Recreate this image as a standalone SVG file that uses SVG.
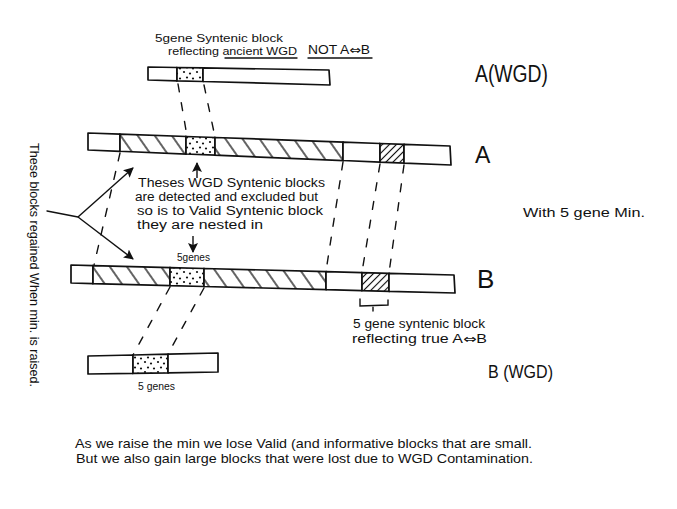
<svg xmlns="http://www.w3.org/2000/svg" width="677" height="509" viewBox="0 0 677 509">
  <style>
    .bar { fill: #fff; stroke: #111; stroke-width: 1.7; stroke-linejoin: round; }
    .hatch { fill: url(#hatchWide); stroke: #111; stroke-width: 1.7; }
    .hatchS { fill: url(#hatchTight); stroke: #111; stroke-width: 1.7; }
    .dots { fill: url(#dotFill); stroke: #111; stroke-width: 1.7; }
    .dash { fill: none; stroke: #111; stroke-width: 1.4; stroke-dasharray: 8 11; stroke-linecap: round; }
    .arrow { fill: none; stroke: #111; stroke-width: 1.4; marker-end: url(#head); }
    .line { fill: none; stroke: #111; stroke-width: 1.4; stroke-linecap: round; }
    text { font-family: "Liberation Sans", Arial, sans-serif; fill: #111; }
    .sym { font-family: "DejaVu Sans", sans-serif; }
    .note { font-size: 12px; }
    .small { font-size: 10px; }
    .big { font-size: 23px; }
  </style>
  <defs>
    <pattern id="hatchWide" patternUnits="userSpaceOnUse" width="14" height="14" patternTransform="rotate(-35)">
      <rect width="14" height="14" fill="#fff"/>
      <line x1="7" y1="0" x2="7" y2="14" stroke="#111" stroke-width="1.3"/>
    </pattern>
    <pattern id="hatchTight" patternUnits="userSpaceOnUse" width="5" height="5" patternTransform="rotate(45)">
      <rect width="5" height="5" fill="#fff"/>
      <line x1="2.5" y1="0" x2="2.5" y2="5" stroke="#111" stroke-width="1.1"/>
    </pattern>
    <pattern id="dotFill" patternUnits="userSpaceOnUse" width="13" height="10">
      <rect width="13" height="10" fill="#fff"/>
      <circle cx="2" cy="2" r="1.1" fill="#111"/>
      <circle cx="8" cy="3.5" r="1.1" fill="#111"/>
      <circle cx="5" cy="7.5" r="1.1" fill="#111"/>
      <circle cx="11" cy="8.5" r="1.1" fill="#111"/>
    </pattern>
    <marker id="head" markerUnits="userSpaceOnUse" markerWidth="10" markerHeight="10" refX="9" refY="5" orient="auto">
      <path d="M0,0 L10,5 L0,10 L2,5 Z" fill="#111"/>
    </marker>
  </defs>

  <!-- chromosome A(WGD) -->
  <g id="barAwgd">
    <polygon class="bar" points="148,67 177,67.5 177,80.8 148,80"/>
    <polygon class="dots" points="177,67.5 203,67.9 203,81.5 177,80.8"/>
    <polygon class="bar" points="203,67.9 329,70 330,85 203,81.5"/>
  </g>

  <!-- chromosome A -->
  <g id="barA">
    <polygon class="bar" points="88,133 120,134.1 120,151.3 88,150"/>
    <polygon class="hatch" points="120,134.1 186,136.5 186,154 120,151.3"/>
    <polygon class="dots" points="186,136.5 215,137.5 215,155.2 186,154"/>
    <polygon class="hatch" points="215,137.5 343,142.1 343,160.5 215,155.2"/>
    <polygon class="bar" points="343,142.1 380,143.5 380,162.1 343,160.5"/>
    <polygon class="hatchS" points="380,143.5 404,144.3 404,163.1 380,162.1"/>
    <polygon class="bar" points="404,144.3 450,146 451,165 404,163.1"/>
  </g>

  <!-- chromosome B -->
  <g id="barB">
    <polygon class="bar" points="71,265 93,265.6 93,283.6 71,283"/>
    <polygon class="hatch" points="93,265.6 170,267.6 170,285.6 93,283.6"/>
    <polygon class="dots" points="170,267.6 204,268.5 204,286.5 170,285.6"/>
    <polygon class="hatch" points="204,268.5 326,271.6 326,289.6 204,286.5"/>
    <polygon class="bar" points="326,271.6 362,272.6 362,290.6 326,289.6"/>
    <polygon class="hatchS" points="362,272.6 389,273.3 389,291.3 362,290.6"/>
    <polygon class="bar" points="389,273.3 454,275 455,293 389,291.3"/>
  </g>

  <!-- chromosome B(WGD) -->
  <g id="barBwgd">
    <polygon class="bar" points="88,356 133,355 133,373.3 88,374"/>
    <polygon class="dots" points="133,355 168,354.2 168,372.8 133,373.3"/>
    <polygon class="bar" points="168,354.2 218,353 218,372 168,372.8"/>
  </g>

  <!-- links between chromosomes and annotation arrows -->
  <g id="connectors">
    <line class="dash" x1="178" y1="84" x2="187" y2="136"/>
    <line class="dash" x1="204" y1="85" x2="215" y2="137"/>
    <line class="dash" x1="120" y1="153" x2="94" y2="265"/>
    <line class="dash" x1="343" y1="162" x2="326" y2="271"/>
    <line class="dash" x1="380" y1="164" x2="362" y2="272"/>
    <line class="dash" x1="404" y1="165" x2="389" y2="273"/>
    <line class="dash" x1="170" y1="287" x2="133" y2="355"/>
    <line class="dash" x1="204" y1="288" x2="168" y2="354"/>
    <polyline class="line" points="47,211 78,217"/>
    <line class="arrow" x1="78" y1="217" x2="133" y2="168"/>
    <line class="arrow" x1="78" y1="217" x2="133" y2="259"/>
    <line class="arrow" x1="197" y1="178" x2="197" y2="163"/>
    <line class="arrow" x1="193" y1="236" x2="193" y2="252"/>
    <path class="line" d="M360,299 L360,306 L388,305 L388,300 M373,306 L373,311"/>
  </g>

  <!-- labels -->
  <g id="labels">
    <text x="155" y="42" font-size="11.5" textLength="128" lengthAdjust="spacingAndGlyphs">5gene Syntenic block</text>
    <text x="168" y="55" font-size="11.5" textLength="129" lengthAdjust="spacingAndGlyphs">reflecting ancient WGD</text>
    <line class="line" x1="225" y1="58" x2="297" y2="58"/>
    <text class="note" x="308" y="54" textLength="62" lengthAdjust="spacingAndGlyphs">NOT A<tspan class="sym">⇔</tspan>B</text>
    <line class="line" x1="308" y1="58" x2="372" y2="58"/>

    <text class="big" x="475" y="82" textLength="73" lengthAdjust="spacingAndGlyphs">A(WGD)</text>
    <text class="big" x="475" y="163">A</text>
    <text x="523" y="217" font-size="12" textLength="122" lengthAdjust="spacingAndGlyphs">With  5 gene Min.</text>
    <text x="477" y="288" font-size="26">B</text>
    <text x="488" y="378" font-size="18" textLength="65" lengthAdjust="spacingAndGlyphs">B (WGD)</text>

    <text class="note" x="353" y="328" textLength="132" lengthAdjust="spacingAndGlyphs">5 gene syntenic block</text>
    <text class="note" x="352" y="343" textLength="135" lengthAdjust="spacingAndGlyphs">reflecting true A<tspan class="sym">⇔</tspan>B</text>

    <text class="small" x="177" y="261" textLength="33" lengthAdjust="spacingAndGlyphs">5genes</text>
    <text class="small" x="138" y="390" textLength="37" lengthAdjust="spacingAndGlyphs">5 genes</text>

    <text class="note" x="138" y="187" textLength="187" lengthAdjust="spacingAndGlyphs">Theses WGD Syntenic blocks</text>
    <text class="note" x="135" y="201" textLength="183" lengthAdjust="spacingAndGlyphs">are detected and excluded but</text>
    <text class="note" x="137" y="215" textLength="186" lengthAdjust="spacingAndGlyphs">so is to Valid Syntenic block</text>
    <text class="note" x="137" y="229" textLength="126" lengthAdjust="spacingAndGlyphs">they are nested in</text>

    <text x="0" y="0" font-size="12" transform="translate(30,143) rotate(90)" textLength="244" lengthAdjust="spacingAndGlyphs">These blocks regained When min. is raised.</text>

    <text x="75" y="448" font-size="13.5" textLength="457" lengthAdjust="spacingAndGlyphs">As we raise the min we lose Valid (and informative blocks that are small.</text>
    <text x="76" y="463" font-size="13.5" textLength="457" lengthAdjust="spacingAndGlyphs">But we also gain large blocks that were lost due to WGD Contamination.</text>
  </g>
</svg>
